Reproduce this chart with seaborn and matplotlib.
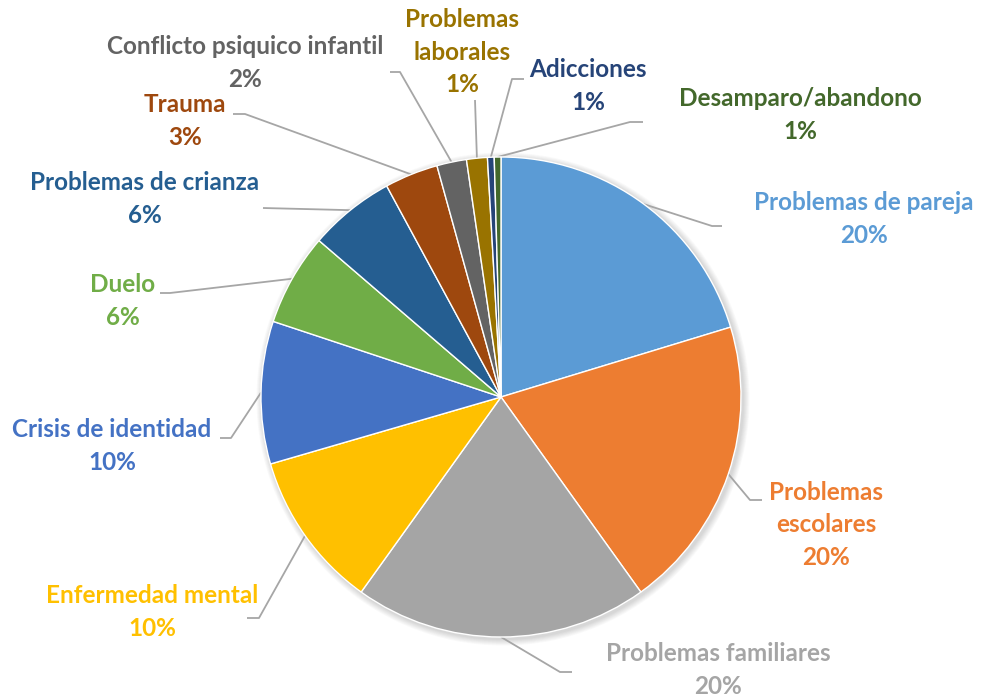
import numpy as np
import matplotlib
matplotlib.use("Agg")
import matplotlib.pyplot as plt
from matplotlib.patches import Circle
import seaborn as sns

sns.set_theme(style="white")
plt.rcParams['font.family'] = ['Lato', 'DejaVu Sans']

# ---------------- data ----------------
categories = ["Problemas de pareja", "Problemas escolares", "Problemas familiares",
              "Enfermedad mental", "Crisis de identidad", "Duelo",
              "Problemas de crianza", "Trauma", "Conflicto psiquico infantil",
              "Problemas laborales", "Adicciones", "Desamparo/abandono"]
values = [20.3, 19.8, 19.8, 10.6, 9.6, 6.2, 5.8, 3.6, 2.0, 1.4, 0.45, 0.45]
pct_labels = [20, 20, 20, 10, 10, 6, 6, 3, 2, 1, 1, 1]
display_names = ["Problemas de pareja", "Problemas\nescolares", "Problemas familiares",
                 "Enfermedad mental", "Crisis de identidad", "Duelo",
                 "Problemas de crianza", "Trauma", "Conflicto psiquico infantil",
                 "Problemas\nlaborales", "Adicciones", "Desamparo/abandono"]
colors = ["#5B9BD5", "#ED7D31", "#A5A5A5", "#FFC000", "#4472C4", "#70AD47",
          "#255E91", "#9E480E", "#636363", "#997300", "#264478", "#43682B"]

# ---------------- layout (pixel coords, y from top) ----------------
W, H = 982, 698
cx, cy, R = 501, 397, 240
label_pos = [(864, 219), (826, 525), (718, 670), (152, 612), (112, 446),
             (123, 301), (145, 199), (185, 121), (245, 63), (462, 52),
             (588, 86), (800, 115)]
leader = [((712, 226), (722, 226)),
          ((750, 500), (762, 500)),
          ((560, 672), (572, 672)),
          ((259, 618), (247, 618)),
          ((231, 438), (220, 438)),
          ((170, 293), (160, 293)),
          ((263, 208), (263, 208)),
          ((245, 114), (233, 114)),
          ((400, 72), (390, 72)),
          ((475, 100), (475, 100)),
          ((512, 79), (524, 79)),
          ((630, 122), (643, 122))]

fig = plt.figure(figsize=(W / 100, H / 100), dpi=100)
ax = fig.add_axes([0, 0, 1, 1])

def Y(y):
    return H - y

# soft shadow
for k in range(8):
    ax.add_patch(Circle((cx + 2, Y(cy) - 2), R + 1 + k * 0.8, color='black',
                        alpha=0.018, lw=0, zorder=0))

wedges, _ = ax.pie(values, colors=colors, startangle=90, counterclock=False,
                   center=(cx, Y(cy)), radius=R, frame=True,
                   wedgeprops=dict(edgecolor='white', linewidth=1.0, zorder=2))
ax.set_xlim(0, W)
ax.set_ylim(0, H)
ax.set_aspect('equal')
ax.axis('off')

for w, name, pct, col, (tx, ty), (elb, end) in zip(wedges, display_names, pct_labels,
                                                 colors, label_pos, leader):
    mid = np.deg2rad((w.theta1 + w.theta2) / 2)
    sx = cx + R * np.cos(mid)
    sy = Y(cy) + R * np.sin(mid)
    ax.plot([sx, elb[0], end[0]], [sy, Y(elb[1]), Y(end[1])], color='#A6A6A6',
            lw=1.3, solid_capstyle='butt', zorder=1)
    ax.text(tx, Y(ty), f"{name}\n{pct}%", color=col, fontsize=17.5, fontweight='bold',
            ha='center', va='center', linespacing=1.5)

fig.savefig("out.png", dpi=100)
